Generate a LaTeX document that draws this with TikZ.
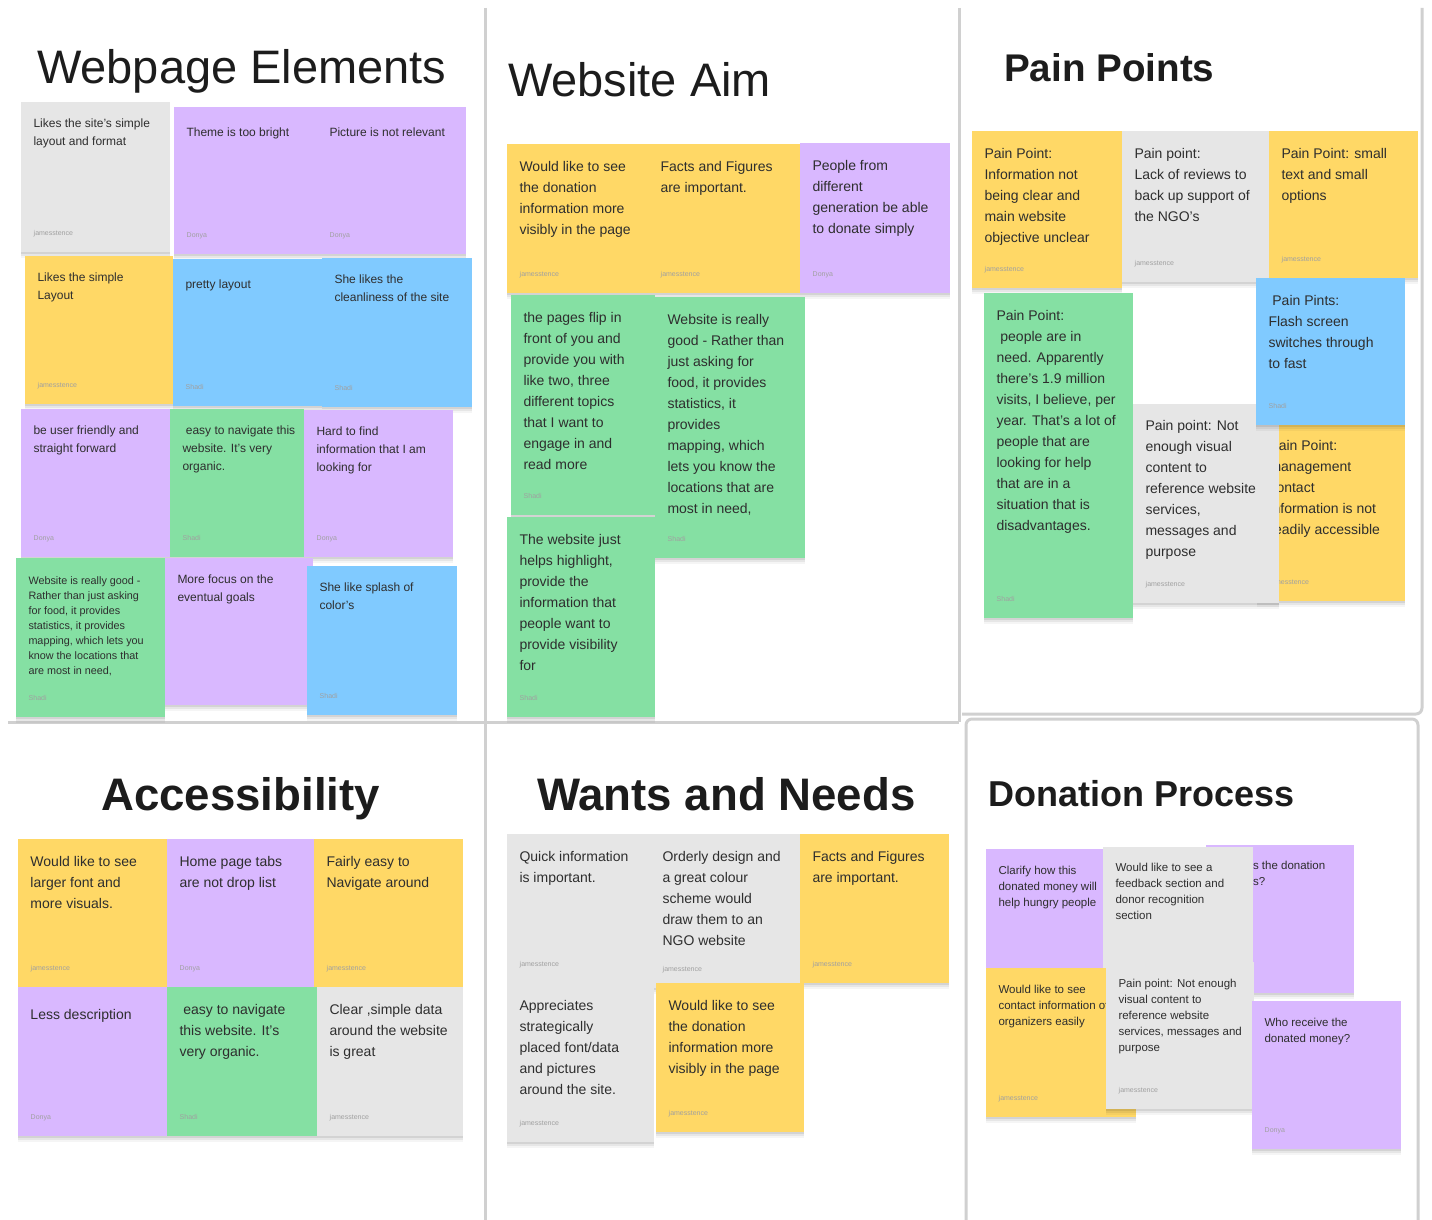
\documentclass[tikz,border=0pt]{standalone}
\usepackage{fontspec}
\setmainfont{Liberation Sans}
\usetikzlibrary{shadows}

\definecolor{noteyellow}{HTML}{FFD866}
\definecolor{notepurple}{HTML}{D9B8FF}
\definecolor{notegreen}{HTML}{85E0A3}
\definecolor{noteblue}{HTML}{80CAFF}
\definecolor{notegray}{HTML}{E6E6E6}
\definecolor{noteink}{HTML}{2E2E2E}
\definecolor{authorink}{HTML}{A0A0A0}
\definecolor{panelline}{HTML}{D0D0D0}
\definecolor{titleink}{HTML}{1C1C1C}

\newcommand\notebig{\fontsize{14}{21}\selectfont}
\newcommand\notemid{\fontsize{12}{18}\selectfont}
\newcommand\notesmall{\fontsize{10.8}{15}\selectfont}
\newcommand\notedon{\fontsize{11.5}{16}\selectfont}

% one sticky note: name, x, y, width, height, colour, text, author, text top offset
\newcommand\sticky[9]{%
  \node[stickybox, fill=#6, minimum width=#4pt, minimum height=#5pt] (#1) at (#2,#3) {};
  \node[notetext] (#1-txt) at ([xshift=12.5pt, yshift=-#9pt-4.5pt]#1.north west) {#7};
  \node[authortext] (#1-by) at ([xshift=12.5pt, yshift=17pt]#1.south west) {#8};
}

\begin{document}
\begin{tikzpicture}[x=1pt, y=-1pt,
  stickybox/.style={rectangle, draw=none, inner sep=0pt, outer sep=0pt, anchor=north west,
    drop shadow={shadow xshift=0pt, shadow yshift=-6pt, opacity=0.04, fill=black},
    drop shadow={shadow xshift=0pt, shadow yshift=-3.5pt, opacity=0.06, fill=black},
    drop shadow={shadow xshift=0pt, shadow yshift=-1.5pt, opacity=0.08, fill=black}},
  notetext/.style={inner sep=0pt, outer sep=0pt, anchor=north west, align=left, text=noteink,
    font=\notebig, execute at begin node=\strut},
  authortext/.style={inner sep=0pt, anchor=base west, text=authorink, font=\fontsize{7}{8}\selectfont},
  paneltitle/.style={inner sep=0pt, anchor=base west, text=titleink},
  panel/.style={draw=panelline, line width=3pt}
]
\useasboundingbox[fill=white] (0,0) rectangle (1432,1220);

% panel frames
\draw[panel] (485,8) -- (485,1220);
\draw[panel] (959,8) -- (959,722);
\draw[panel] (8,722) -- (959,722);
\draw[panel, rounded corners=6pt] (962,714) -- (1422,714) -- (1422,8);
\draw[panel, rounded corners=6pt] (966,1220) -- (966,719) -- (1418,719) -- (1418,1220);

% panel titles
\node[paneltitle, font=\fontsize{47}{50}\selectfont] (t-web) at (37,84) {Webpage Elements};
\node[paneltitle, font=\fontsize{47}{50}\selectfont] (t-aim) at (508,97) {Website Aim};
\node[paneltitle, font=\bfseries\fontsize{38.6}{42}\selectfont] (t-pain) at (1004,82) {Pain Points};
\node[paneltitle, font=\bfseries\fontsize{45.6}{48}\selectfont] (t-acc) at (101,810) {Accessibility};
\node[paneltitle, font=\bfseries\fontsize{45.6}{48}\selectfont] (t-want) at (537,810) {Wants and Needs};
\node[paneltitle, font=\bfseries\fontsize{36}{40}\selectfont] (t-don) at (988,806) {Donation Process};

% Webpage Elements
\begin{scope}[notetext/.append style={font=\notemid}]
\sticky{we1}{21}{102}{149}{150}{notegray}{Likes the site's simple\\layout and format}{jamesstence}{12}
\sticky{we2}{174}{107}{143}{147}{notepurple}{Theme is too bright}{Donya}{12}
\sticky{we3}{317}{107}{149}{147}{notepurple}{Picture is not relevant}{Donya}{12}
\sticky{we4}{25}{256}{148}{148}{noteyellow}{Likes the simple\\Layout}{jamesstence}{12}
\sticky{we5}{173}{259}{149}{147}{noteblue}{pretty layout}{Shadi}{12}
\sticky{we6}{322}{258}{150}{149}{noteblue}{She likes the\\cleanliness of the site}{Shadi}{12}
\sticky{we7}{21}{409}{149}{148}{notepurple}{be user friendly and\\straight forward}{Donya}{12}
\sticky{we8}{170}{409}{134}{148}{notegreen}{\ easy to navigate this\\website. It's very\\organic.}{Shadi}{12}
\sticky{we9}{304}{410}{149}{147}{notepurple}{Hard to find\\information that I am\\looking for}{Donya}{12}
\end{scope}
\begin{scope}[notetext/.append style={font=\notesmall}]
\sticky{we10}{16}{558}{149}{159}{notegreen}{Website is really good -\\Rather than just asking\\for food, it provides\\statistics, it provides\\mapping, which lets you\\know the locations that\\are most in need,}{Shadi}{14}
\end{scope}
\begin{scope}[notetext/.append style={font=\notemid}]
\sticky{we11}{165}{558}{148}{147}{notepurple}{More focus on the\\eventual goals}{}{12}
\sticky{we12}{307}{566}{150}{149}{noteblue}{She like splash of\\color's}{Shadi}{12}
\end{scope}

% Website Aim
\sticky{wa1}{507}{144}{141}{149}{noteyellow}{Would like to see\\the donation\\information more\\visibly in the page}{jamesstence}{13}
\sticky{wa2}{648}{144}{152}{149}{noteyellow}{Facts and Figures\\are important.}{jamesstence}{13}
\sticky{wa3}{800}{143}{150}{150}{notepurple}{People from\\different\\generation be able\\to donate simply}{Donya}{12.5}
\sticky{wa4}{511}{295}{144}{220}{notegreen}{the pages flip in\\front of you and\\provide you with\\like two, three\\different topics\\that I want to\\engage in and\\read more}{Shadi}{13}
\sticky{wa5}{655}{297}{150}{261}{notegreen}{Website is really\\good - Rather than\\just asking for\\food, it provides\\statistics, it\\provides\\mapping, which\\lets you know the\\locations that are\\most in need,}{Shadi}{13}
\sticky{wa6}{507}{517}{148}{200}{notegreen}{The website just\\helps highlight,\\provide the\\information that\\people want to\\provide visibility\\for}{Shadi}{13}

% Pain Points
\sticky{pp1}{972}{131}{150}{157}{noteyellow}{Pain Point:\\Information not\\being clear and\\main website\\objective unclear}{jamesstence}{12.5}
\sticky{pp2}{1122}{131}{147}{151}{notegray}{Pain point:\\Lack of reviews to\\back up support of\\the NGO's}{jamesstence}{12.5}
\sticky{pp3}{1269}{131}{149}{147}{noteyellow}{Pain Point: small\\text and small\\options}{jamesstence}{12.5}
\sticky{pp4}{984}{293}{149}{325}{notegreen}{Pain Point:\\\ people are in\\need. Apparently\\there's 1.9 million\\visits, I believe, per\\year. That's a lot of\\people that are\\looking for help\\that are in a\\situation that is\\disadvantages.}{Shadi}{12.5}
\sticky{pp6}{1257}{423}{148}{178}{noteyellow}{Pain Point:\\management\\contact\\information is not\\readily accessible}{jamesstence}{12.5}
\sticky{pp5}{1133}{404}{146}{199}{notegray}{Pain point: Not\\enough visual\\content to\\reference website\\services,\\messages and\\purpose}{jamesstence}{11.5}
\sticky{pp7}{1256}{278}{149}{147}{noteblue}{\ Pain Pints:\\Flash screen\\switches through\\to fast}{Shadi}{12.5}

% Accessibility
\sticky{ac1}{18}{839}{149}{148}{noteyellow}{Would like to see\\larger font and\\more visuals.}{jamesstence}{13}
\sticky{ac2}{167}{839}{147}{148}{notepurple}{Home page tabs\\are not drop list}{Donya}{13}
\sticky{ac3}{314}{839}{149}{148}{noteyellow}{Fairly easy to\\Navigate around}{jamesstence}{13}
\sticky{ac4}{18}{987}{149}{149}{notepurple}{Less description}{Donya}{13}
\sticky{ac5}{167}{987}{150}{149}{notegreen}{\ easy to navigate\\this website. It's\\very organic.}{Shadi}{13}
\sticky{ac6}{317}{987}{146}{149}{notegray}{Clear ,simple data\\around the website\\is great}{jamesstence}{13}

% Wants and Needs
\sticky{wn1}{507}{834}{143}{149}{notegray}{Quick information\\is important.}{jamesstence}{13}
\sticky{wn2}{650}{834}{150}{154}{notegray}{Orderly design and\\a great colour\\scheme would\\draw them to an\\NGO website}{jamesstence}{13}
\sticky{wn3}{800}{834}{149}{149}{noteyellow}{Facts and Figures\\are important.}{jamesstence}{13}
\sticky{wn4}{507}{983}{147}{159}{notegray}{Appreciates\\strategically\\placed font/data\\and pictures\\around the site.}{jamesstence}{13}
\sticky{wn5}{656}{983}{148}{149}{noteyellow}{Would like to see\\the donation\\information more\\visibly in the page}{jamesstence}{13}

% Donation Process
\begin{scope}[notetext/.append style={font=\notedon}]
\sticky{dp1}{986}{849}{150}{150}{notepurple}{Clarify how this\\donated money will\\help hungry people}{}{12.5}
% this note sits under the next one: only the tail of its lines shows
\node[stickybox, fill=notepurple, minimum width=148pt, minimum height=148pt] (dp2) at (1206,845) {};
\node[notetext] (dp2-txt) at ([xshift=47pt, yshift=-16.5pt]dp2.north west) {s the donation\\s?};
\sticky{dp3}{1103}{847}{150}{150}{notegray}{Would like to see a\\feedback section and\\donor recognition\\section}{}{12}
\sticky{dp4}{986}{968}{150}{149}{noteyellow}{Would like to see\\contact information of\\organizers easily}{jamesstence}{13}
\sticky{dp5}{1106}{962}{148}{147}{notegray}{Pain point: Not enough\\visual content to\\reference website\\services, messages and\\purpose}{jamesstence}{12.5}
\sticky{dp6}{1252}{1001}{149}{148}{notepurple}{Who receive the\\donated money?}{Donya}{12.5}
\end{scope}
\end{tikzpicture}
\end{document}
